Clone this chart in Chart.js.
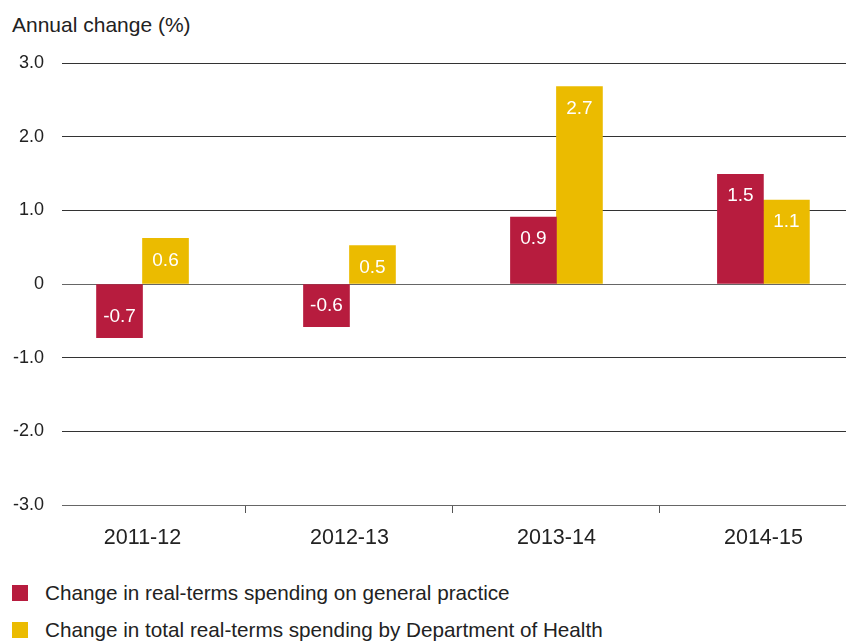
<!DOCTYPE html>
<html>
<head>
<meta charset="utf-8">
<script src="https://cdn.jsdelivr.net/npm/chart.js@4"></script>
<style>
  body { margin: 0; background: #fff; font-family: "Liberation Sans", Arial, sans-serif; color: #222; }
  #wrap { position: relative; width: 846px; height: 642px; overflow: hidden; }
  #chart { position: absolute; left: 0; top: 0; }
  #ytitle { position: absolute; left: 12px; top: 13px; font-size: 21px; }
  .key { position: absolute; left: 12px; font-size: 20.7px; line-height: 16px; }
  .key span { display: inline-block; width: 16px; height: 16px; vertical-align: top; margin-right: 17px; }
</style>
</head>
<body>
<div id="wrap">
  <div id="ytitle">Annual change (%)</div>
  <canvas id="chart" width="846" height="560"></canvas>
  <div class="key" style="top:585px"><span style="background:#b71c3e"></span>Change in real-terms spending on general practice</div>
  <div class="key" style="top:622px"><span style="background:#ebbb00"></span>Change in total real-terms spending by Department of Health</div>
</div>
<script>
var years = ["2011-12", "2012-13", "2013-14", "2014-15"];
var gpSpend = [-0.73, -0.58, 0.91, 1.49];
var dohSpend = [0.62, 0.52, 2.68, 1.14];
var yTicks = [-3, -2, -1, 0, 1, 2, 3];

var red = '#b71c3e';
var yellow = '#ebbb00';

function points(values) {
    return values.map(function (v, i) { return { x: i, y: v }; });
}

// white value labels just inside the end of each bar
var barLabels = {
    id: 'barLabels',
    afterDatasetsDraw: function (chart) {
        var ctx = chart.ctx;
        ctx.save();
        ctx.fillStyle = '#fff';
        ctx.font = '19px "Liberation Sans", Arial, sans-serif';
        ctx.textAlign = 'center';
        ctx.textBaseline = 'middle';
        chart.data.datasets.forEach(function (ds, di) {
            chart.getDatasetMeta(di).data.forEach(function (bar, i) {
                var v = ds.data[i].y;
                var y = v >= 0 ? bar.y + 22 : bar.y - 21;
                ctx.fillText(v.toFixed(1), bar.x, y);
            });
        });
        ctx.restore();
    }
};

function renderChart() {
    var ctx = document.getElementById("chart").getContext('2d');
    var myChart = new Chart(ctx, {
        type: 'bar',
        data: {
            datasets: [{
                label: 'Change in real-terms spending on general practice',
                data: points(gpSpend),
                backgroundColor: red
            }, {
                label: 'Change in total real-terms spending by Department of Health',
                data: points(dohSpend),
                backgroundColor: yellow
            }]
        },
        options: {
            responsive: false,
            animation: false,
            layout: { padding: { top: 63, left: 0, right: 0, bottom: 0 } },
            datasets: { bar: { barThickness: 46 } },
            plugins: { legend: { display: false }, tooltip: { enabled: false } },
            scales: {
                x: {
                    type: 'linear',
                    offset: false,
                    min: -0.389,
                    max: 3.399,
                    afterBuildTicks: function (axis) {
                        axis.ticks = [0, 0.5, 1, 1.5, 2, 2.5, 3].map(function (v) { return { value: v }; });
                    },
                    afterFit: function (axis) { axis.height = 55; },
                    border: { display: false },
                    grid: {
                        offset: false,
                        drawOnChartArea: false,
                        tickLength: 8,
                        color: function (c) { return c.tick && c.tick.value % 1 ? '#555' : 'rgba(0,0,0,0)'; }
                    },
                    ticks: {
                        autoSkip: false,
                        maxRotation: 0,
                        padding: 12,
                        color: '#222',
                        font: { family: '"Liberation Sans", Arial, sans-serif', size: 21.5 },
                        callback: function (v) { return v % 1 ? '' : years[v]; }
                    }
                },
                y: {
                    min: -3,
                    max: 3,
                    afterBuildTicks: function (axis) {
                        axis.ticks = yTicks.map(function (v) { return { value: v }; });
                    },
                    afterFit: function (axis) { axis.width = 62; },
                    border: { display: false },
                    grid: {
                        drawTicks: false,
                        lineWidth: 1,
                        color: function (c) { return c.tick && (c.tick.value === 0 || c.tick.value === -3) ? '#666' : '#333'; }
                    },
                    ticks: {
                        padding: 18,
                        color: '#222',
                        font: { family: '"Liberation Sans", Arial, sans-serif', size: 18 },
                        callback: function (v) { return v === 0 ? '0' : v.toFixed(1); }
                    }
                }
            }
        },
        plugins: [barLabels]
    });
}

renderChart();
</script>
</body>
</html>
